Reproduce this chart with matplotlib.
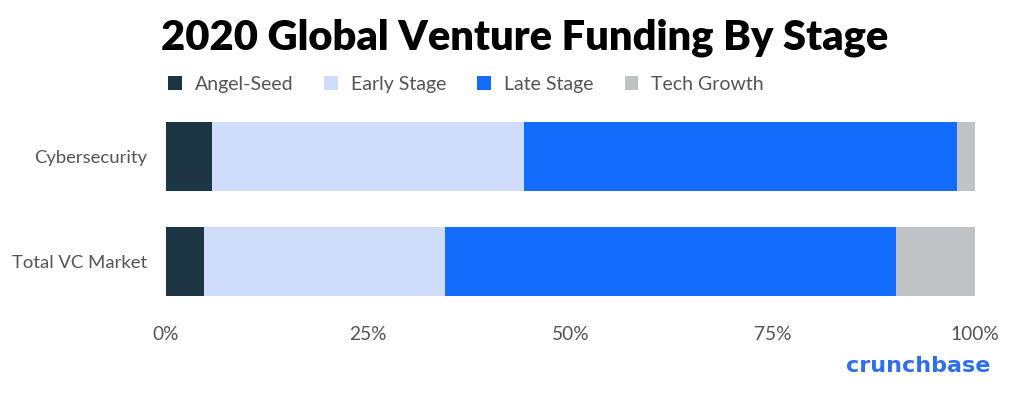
import numpy as np
import matplotlib.pyplot as plt

categories = ['Cybersecurity', 'Total VC Market']
stages = ['Angel-Seed', 'Early Stage', 'Late Stage', 'Tech Growth']
angel_seed = [5.7, 4.7]
early_stage = [38.6, 29.8]
late_stage = [53.5, 55.7]
tech_growth = [2.2, 9.8]
xticks = [0, 25, 50, 75, 100]
xtick_labels = ['0%', '25%', '50%', '75%', '100%']

colors = ['#1b3545', '#cfddfa', '#146cfd', '#bfc3c6']
grey = '#555555'

plt.rcParams['font.family'] = ['Lato', 'DejaVu Sans']

fig = plt.figure(figsize=(10.24, 3.97), dpi=100)
ax = fig.add_axes([0.1621, 0.2317, 0.79, 0.4786])

y = np.arange(len(categories))
left = np.zeros(len(categories))
for name, vals, c in zip(stages, [angel_seed, early_stage, late_stage, tech_growth], colors):
    ax.barh(y, vals, left=left, height=0.66, color=c, label=name)
    left += np.array(vals)

ax.set_xlim(0, 100)
ax.set_ylim(1.421, -0.397)
ax.set_xticks(xticks)
ax.set_xticklabels(xtick_labels)
ax.set_yticks(y)
ax.set_yticklabels(categories)
ax.tick_params(length=0, labelsize=13.8, labelcolor=grey)
ax.tick_params(axis='x', pad=15)
ax.tick_params(axis='y', pad=13.5, labelsize=13.3)
for s in ax.spines.values():
    s.set_visible(False)

fig.text(0.157, 0.905, '2020 Global Venture Funding By Stage', fontsize=30,
         fontweight='heavy', color='black', va='center', ha='left')

leg = fig.legend(loc='center left', bbox_to_anchor=(0.164, 0.788), ncol=4,
                 frameon=False, fontsize=14, handlelength=0.7, handleheight=0.7,
                 handletextpad=0.67, columnspacing=1.6, labelcolor=grey,
                 borderpad=0, borderaxespad=0)

fig.text(0.967, 0.078, 'crunchbase', fontsize=16, fontweight='bold',
         family='DejaVu Sans', color='#2f6fee', ha='right', va='center')

fig.savefig('out.png', dpi=100)
